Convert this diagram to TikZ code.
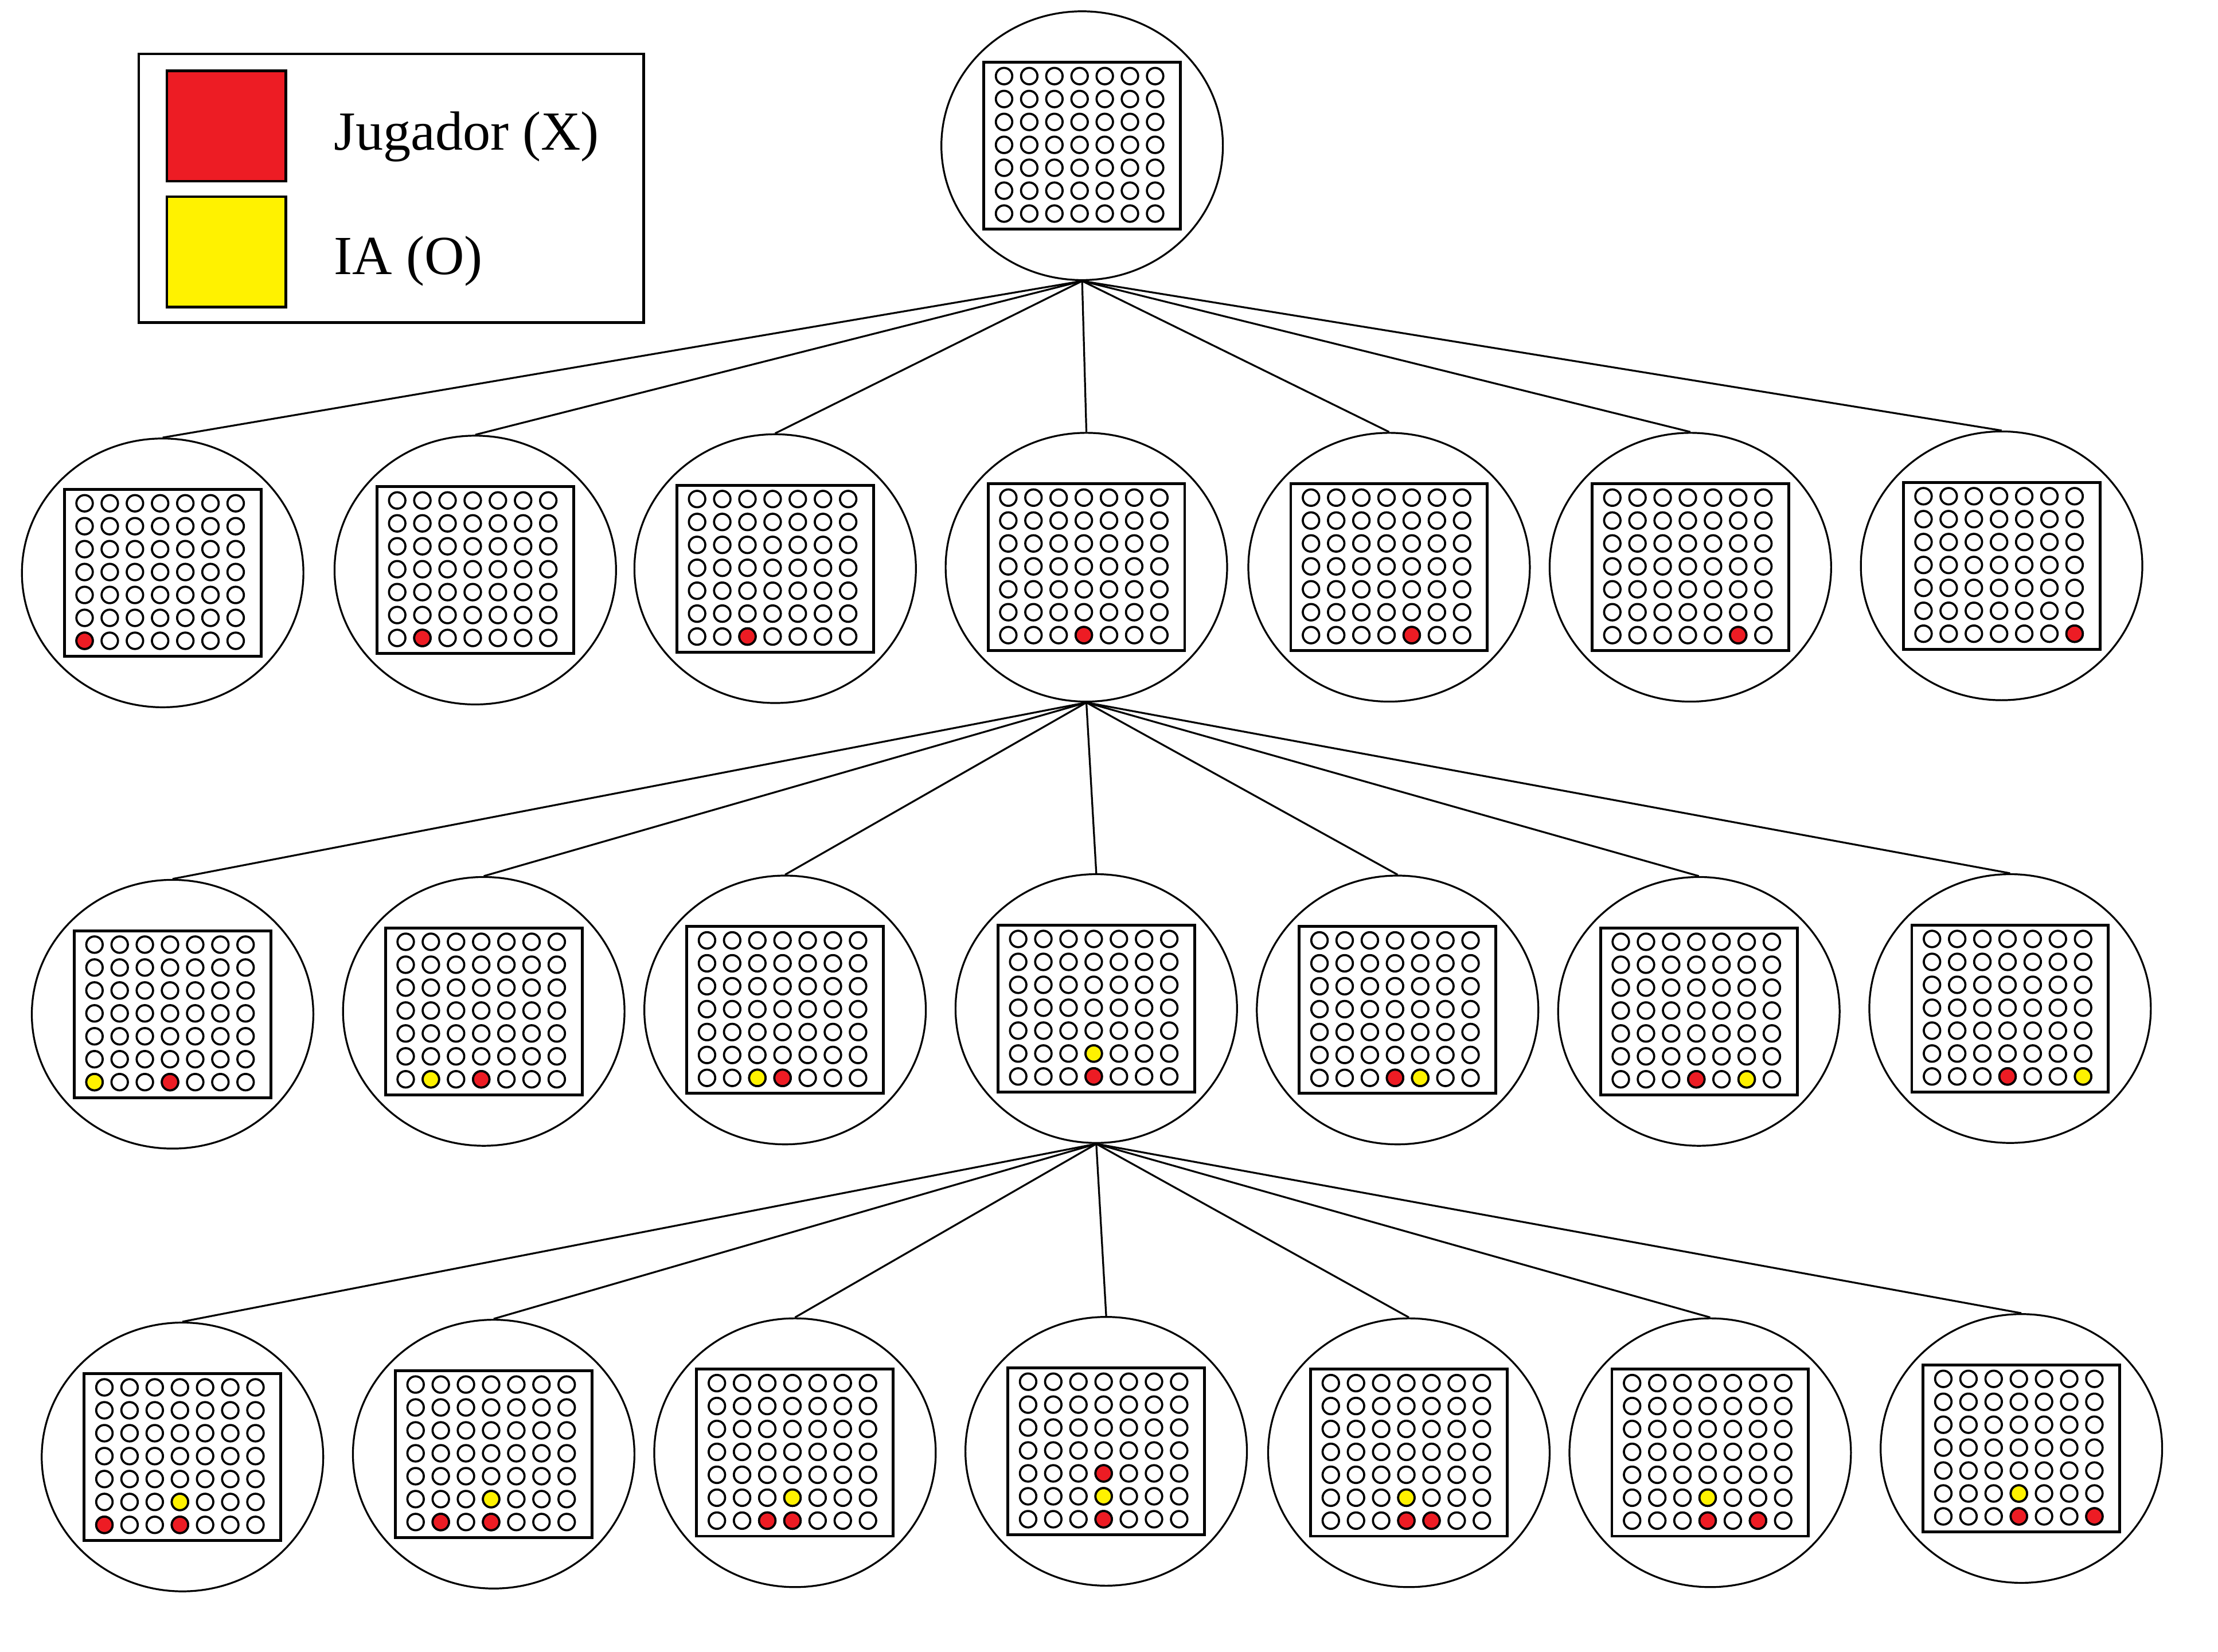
\documentclass[tikz,border=0pt]{standalone}
\usepackage{fontspec}
\setmainfont{Liberation Serif}
\usepackage{xcolor}
\usetikzlibrary{positioning,shapes.geometric}
\definecolor{jred}{RGB}{237,28,36}
\definecolor{iayellow}{RGB}{255,242,0}

\newcommand{\board}[1]{%
\begin{scope}[shift={(#1.center)}]
\draw [boardline] (-69.5,-59) rectangle (69.5,59);
\foreach \i in {1,...,7}
  \foreach \j in {1,...,7}
    \draw [hole] ({-73+17.8*\i},{-65.4+16.2*\j}) circle (5.8pt);
\end{scope}}
\newcommand{\piece}[4]{%
\begin{scope}[shift={(#1.center)}]
\filldraw [hole,fill=#4] ({-73+17.8*#2},{-65.4+16.2*#3}) circle (5.8pt);
\end{scope}}

\begin{document}
\begin{tikzpicture}[x=1pt,y=-1pt]
\tikzstyle{state}=[draw,ellipse,line width=1.3pt,minimum width=199pt,minimum height=190pt,inner sep=0pt]
\tikzstyle{edge}=[line width=1.3pt]
\tikzstyle{boardline}=[line width=2pt]
\tikzstyle{hole}=[line width=1.5pt]
\tikzstyle{key}=[draw,line width=1.8pt,minimum width=84pt,minimum height=78pt,inner sep=0pt]
\tikzstyle{keytext}=[anchor=base west,inner sep=0pt,font=\fontsize{39}{46}\selectfont]
\useasboundingbox (0,0) rectangle (1568,1167.5);
\draw [line width=1.8pt] (98,38) rectangle (455,228);
\node [key,fill=jred] (xkey) at (160,89) {};
\node [key,fill=iayellow] (okey) at (160,178) {};
\node [keytext] (xtext) at (236,106) {Jugador (X)};
\node [keytext] (otext) at (236,194) {IA (O)};
\node [state] (r) at (765,103) {};
\foreach \x/\y [count=\n] in {115/405,336/403,548/402,768/401,982/401,1195/401,1415/400}
  \node [state] (a\n) at (\x,\y) {};
\foreach \x/\y [count=\n] in {122/717,342/715,555/714,775/713,988/714,1201/715,1421/713}
  \node [state] (b\n) at (\x,\y) {};
\foreach \x/\y [count=\n] in {129/1030,349/1028,562/1027,782/1026,996/1027,1209/1027,1429/1024}
  \node [state] (c\n) at (\x,\y) {};
\foreach \n in {1,...,7} {
  \draw [edge] (r.south) -- (a\n.north);
  \draw [edge] (a4.south) -- (b\n.north);
  \draw [edge] (b4.south) -- (c\n.north);
}
\board{r}
\foreach \n in {1,...,7} {\board{a\n}\board{b\n}\board{c\n}}
\foreach \n in {1,...,7} {
  \piece{a\n}{\n}{7}{jred}
  \piece{b\n}{4}{7}{jred}
  \piece{c\n}{4}{7}{jred}
  \piece{c\n}{4}{6}{iayellow}
}
\foreach \n/\r in {1/7,2/7,3/7,4/6,5/7,6/7,7/7} {
  \piece{b\n}{\n}{\r}{iayellow}
}
\foreach \n/\r in {1/7,2/7,3/7,4/5,5/7,6/7,7/7} {
  \piece{c\n}{\n}{\r}{jred}
}
\end{tikzpicture}
\end{document}
